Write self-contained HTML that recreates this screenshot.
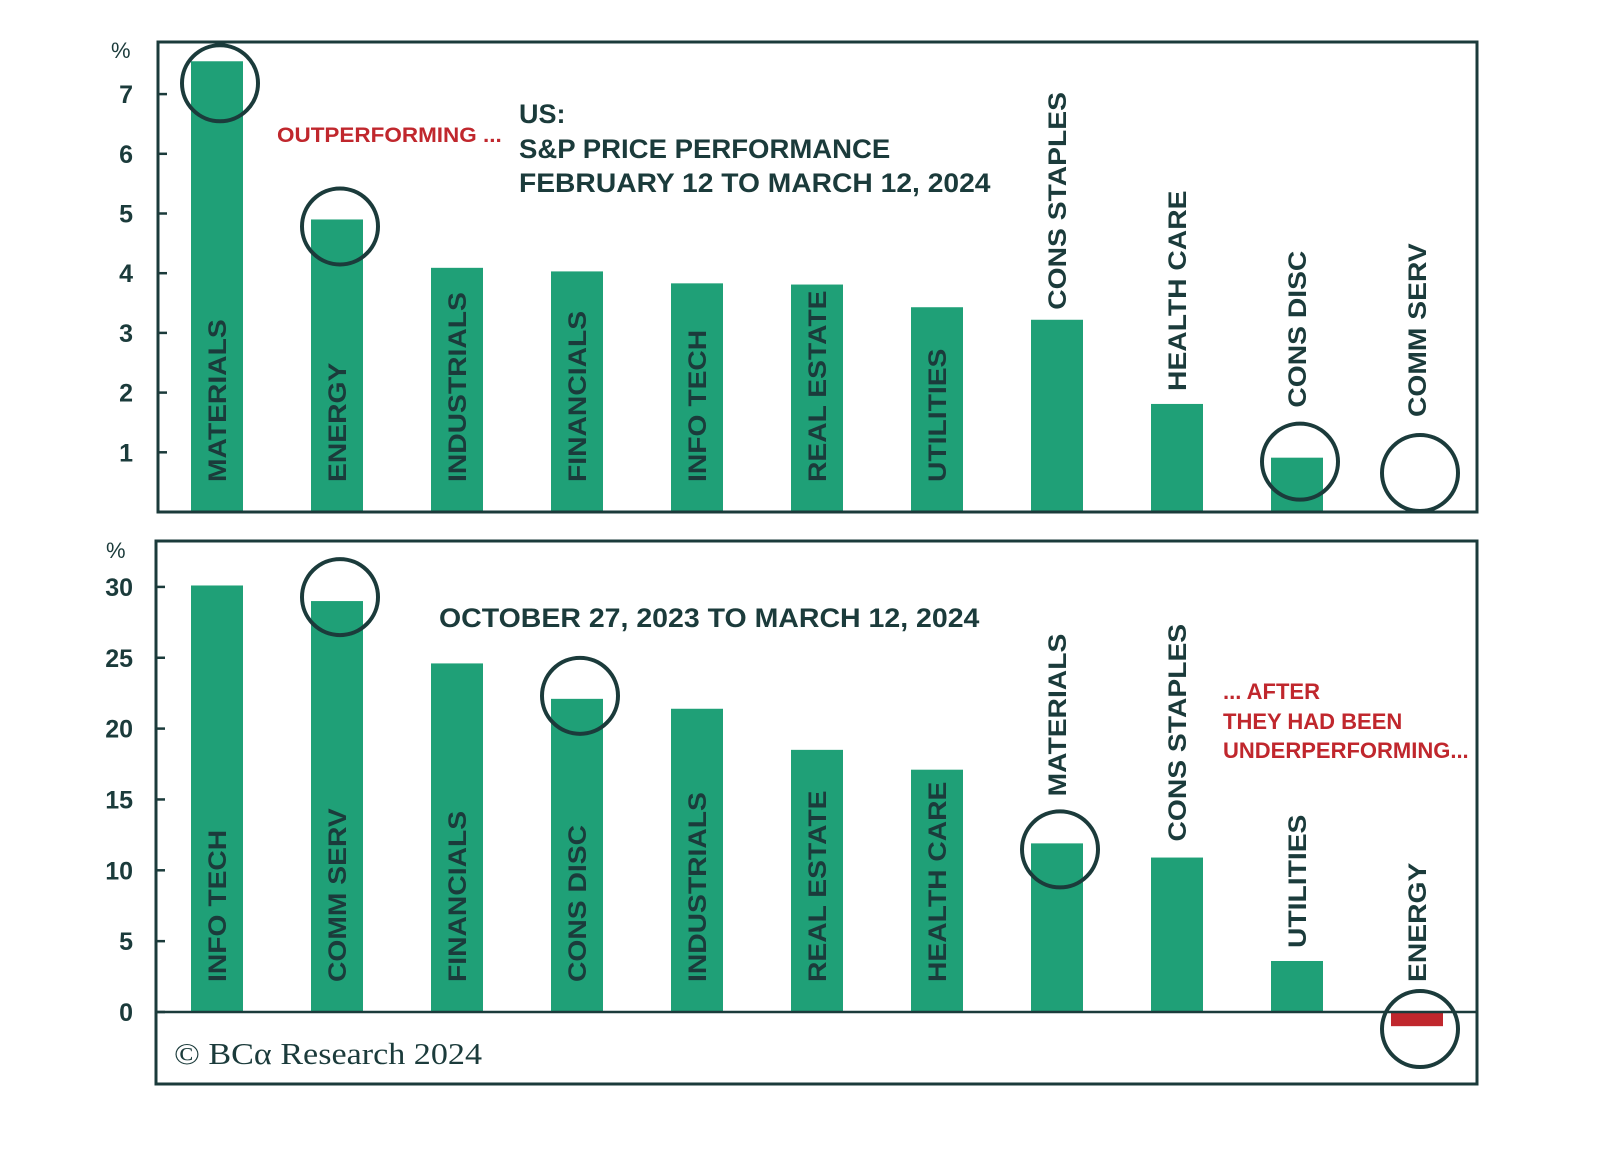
<!DOCTYPE html>
<html><head><meta charset="utf-8"><style>
body{margin:0;background:#fff;}
svg{display:block;font-family:"Liberation Sans",sans-serif;}
</style></head><body>
<svg id="c" width="1600" height="1169" viewBox="0 0 1600 1169"></svg>
<script>
const topCats=["MATERIALS","ENERGY","INDUSTRIALS","FINANCIALS","INFO TECH","REAL ESTATE","UTILITIES","CONS STAPLES","HEALTH CARE","CONS DISC","COMM SERV"];
const topVals=[7.55,4.9,4.09,4.03,3.83,3.81,3.43,3.22,1.81,0.91,0];
const topTicks=[1,2,3,4,5,6,7];
const topCircled=[0,1,9,10];
const botCats=["INFO TECH","COMM SERV","FINANCIALS","CONS DISC","INDUSTRIALS","REAL ESTATE","HEALTH CARE","MATERIALS","CONS STAPLES","UTILITIES","ENERGY"];
const botVals=[30.1,29.0,24.6,22.1,21.4,18.5,17.1,11.9,10.9,3.6,-1.0];
const botTicks=[0,5,10,15,20,25,30];
const botCircled=[1,3,7,10];

const NS="http://www.w3.org/2000/svg";
const svg=document.getElementById('c');
const DARK="#1b3b3b",GREEN="#1fa077",RED="#c0272d";
function mk(tag,attrs,parent){const e=document.createElementNS(NS,tag);for(const k in attrs)e.setAttribute(k,attrs[k]);(parent||svg).appendChild(e);return e;}
function txt(s,attrs,name){const e=mk('text',attrs);e.textContent=s;


return e;}
function stretch(e,f){const l=e.getComputedTextLength();e.setAttribute('textLength',(l*f).toFixed(1));e.setAttribute('lengthAdjust','spacingAndGlyphs');}
const xC=i=>217+120*i;
const BW=52;

function panel(cfg){
  const {cats,vals,ticks,circled,y0,unit,frame,pfx,inside,gap,circOff}=cfg;
  const yS=v=>y0-v*unit;
  const g=mk('g',{});
  
  
  cats.forEach((c,i)=>{
    const v=vals[i];
    const top=Math.min(yS(v),y0),h=Math.abs(yS(v)-y0);
    const r=mk('rect',{x:xC(i)-BW/2,y:top,width:BW,height:h,fill:v<0?RED:GREEN},g);
    
    
    const isIn=i<inside;
    const ly=isIn?y0-30:Math.min(yS(v),y0)-gap(i);
    const t=txt(c,{x:xC(i)+9,y:ly,transform:`rotate(-90 ${xC(i)+9} ${ly})`,fill:DARK,'font-size':25,'font-weight':'bold'},pfx+'-category-label');
    stretch(t,1.13);
  });
  const f=mk('rect',{x:frame[0],y:frame[1],width:frame[2]-frame[0],height:frame[3]-frame[1],fill:'none',stroke:DARK,'stroke-width':3});
  
  
  const z=mk('line',{x1:frame[0],x2:frame[2],y1:y0,y2:y0,stroke:DARK,'stroke-width':2.5});
  
  
  ticks.forEach(t=>{
    mk('line',{x1:frame[0],x2:frame[0]+9,y1:yS(t),y2:yS(t),stroke:DARK,'stroke-width':2.5});
    txt(String(t),{x:133,y:yS(t)+9,'text-anchor':'end',fill:DARK,'font-size':25,'font-weight':'bold'},pfx+'-y-tick-label');
  });
  circled.forEach(i=>{
    const cy=Math.min(yS(vals[i]),y0)+circOff(i);
    const c=mk('circle',{cx:xC(i)+3,cy:cy,r:38,fill:'none',stroke:DARK,'stroke-width':4});
    
    
  });
}
panel({cats:topCats,vals:topVals,ticks:topTicks,circled:topCircled,y0:512,unit:59.7,frame:[158,42,1477,512],pfx:'top',inside:7,
  gap:i=>({7:10,8:13,9:50,10:95})[i]||10,
  circOff:i=>({0:22,1:7,9:4,10:-39})[i]});
panel({cats:botCats,vals:botVals,ticks:botTicks,circled:botCircled,y0:1012,unit:14.17,frame:[156,541,1477,1084],pfx:'bottom',inside:7,
  gap:i=>({7:47,8:16,9:13,10:30})[i]||10,
  circOff:i=>({1:-4,3:-3,7:6,10:17})[i]});
txt('%',{x:111,y:58,fill:DARK,'font-size':22},'top-y-unit');
txt('%',{x:106,y:558,fill:DARK,'font-size':22},'bottom-y-unit');
stretch(txt('OUTPERFORMING ...',{x:277,y:142,fill:RED,'font-size':21,'font-weight':'bold'},'outperforming-note'),1.07);
txt('US:',{x:519,y:123,fill:DARK,'font-size':27,'font-weight':'bold'},'title-line-1');
stretch(txt('S&P PRICE PERFORMANCE',{x:519,y:158,fill:DARK,'font-size':27,'font-weight':'bold'},'title-line-2'),1.02);
stretch(txt('FEBRUARY 12 TO MARCH 12, 2024',{x:519,y:192,fill:DARK,'font-size':27,'font-weight':'bold'},'title-line-3'),1.045);
stretch(txt('OCTOBER 27, 2023 TO MARCH 12, 2024',{x:439,y:627,fill:DARK,'font-size':27,'font-weight':'bold'},'bottom-title'),1.055);
txt('... AFTER',{x:1223,y:699,fill:RED,'font-size':22,'font-weight':'bold'},'underperforming-note-1');
txt('THEY HAD BEEN',{x:1223,y:729,fill:RED,'font-size':22,'font-weight':'bold'},'underperforming-note-2');
txt('UNDERPERFORMING...',{x:1223,y:758,fill:RED,'font-size':22,'font-weight':'bold'},'underperforming-note-3');
stretch(txt('© BCα Research 2024',{x:174,y:1064,fill:DARK,'font-size':31,'font-family':'Liberation Serif, serif'},'copyright'),1.1);
</script>
</body></html>
